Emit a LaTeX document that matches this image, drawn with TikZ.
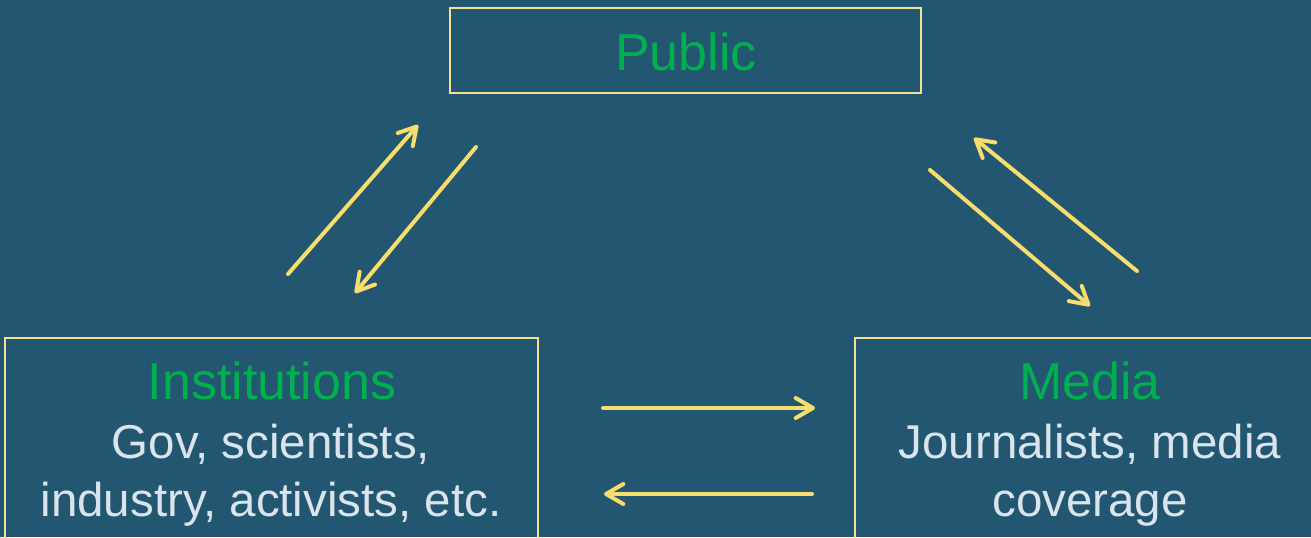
\documentclass[tikz,border=0pt]{standalone}
\usepackage{fontspec}
\setmainfont{Liberation Sans}
\usetikzlibrary{arrows.meta}
\definecolor{bgblue}{RGB}{35,86,112}
\definecolor{boxline}{RGB}{243,226,150}
\definecolor{arrowyel}{RGB}{247,220,110}
\definecolor{titlegreen}{RGB}{0,176,80}
\definecolor{bodytext}{RGB}{218,228,237}
\tikzset{
  frame/.style={draw=boxline, line width=1.4pt, inner sep=0pt},
  title/.style={text=titlegreen, font=\fontsize{39}{39}\selectfont, anchor=base, inner sep=0pt},
  body/.style={text=bodytext, font=\fontsize{35.6}{35.6}\selectfont, anchor=base, inner sep=0pt},
  flow/.style={draw=arrowyel, line width=3pt, line cap=round,
    -{Straight Barb[length=13pt,width=15pt,line width=3pt,round]}}
}
\begin{document}
\begin{tikzpicture}[x=0.75pt,y=-0.75pt]
\useasboundingbox (0,0) rectangle (1311,537);
\fill[bgblue] (0,0) rectangle (1311,537);
\clip (0,0) rectangle (1311,537);
% boxes
\node[frame, minimum width=353.25pt, minimum height=63.75pt] (public) at (685.5,50.5) {};
\node[frame, minimum width=399.75pt, minimum height=159pt] (inst) at (271.5,444) {};
\node[frame, minimum width=352.5pt, minimum height=159pt] (media) at (1090,444) {};
% texts
\node[title] (tpublic) at (686,70) {Public};
\node[title] (tinst) at (272,399) {Institutions};
\node[body] (binst1) at (271,458) {Gov, scientists,};
\node[body] (binst2) at (271,516) {industry, activists, etc.};
\node[title] (tmedia) at (1090,399) {Media};
\node[body] (bmedia1) at (1090,458) {Journalists, media};
\node[body] (bmedia2) at (1090,516) {coverage};
% arrow end points
\coordinate (ip1) at (288,274);
\coordinate (ip2) at (418,125);
\coordinate (pi1) at (476,147);
\coordinate (pi2) at (355,293);
\coordinate (mp1) at (1137,271);
\coordinate (mp2) at (974,138);
\coordinate (pm1) at (930,170);
\coordinate (pm2) at (1090,306);
\coordinate (im1) at (603,408);
\coordinate (im2) at (815,408);
\coordinate (mi1) at (812,494);
\coordinate (mi2) at (604,494);
\draw[flow] (ip1) -- (ip2);
\draw[flow] (pi1) -- (pi2);
\draw[flow] (mp1) -- (mp2);
\draw[flow] (pm1) -- (pm2);
\draw[flow] (im1) -- (im2);
\draw[flow] (mi1) -- (mi2);
\end{tikzpicture}
\end{document}
